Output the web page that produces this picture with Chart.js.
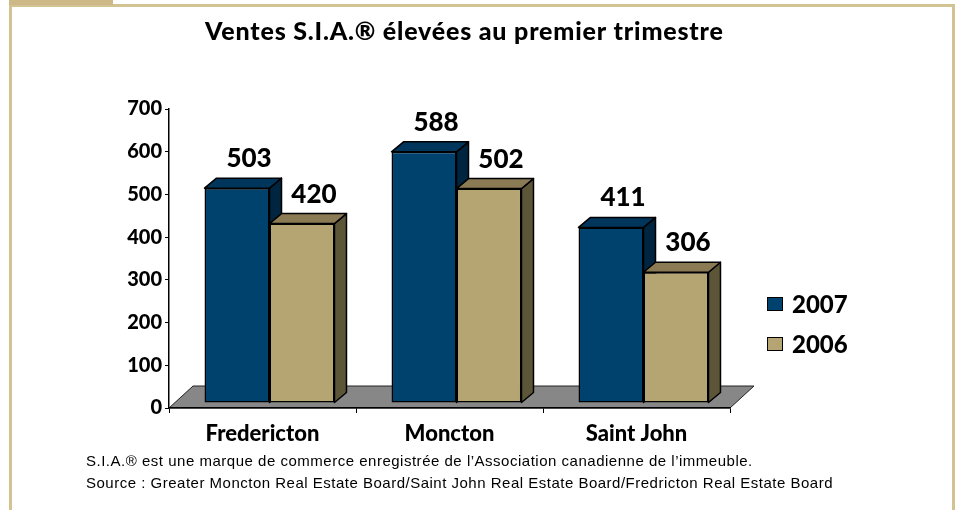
<!DOCTYPE html>
<html>
<head>
<meta charset="utf-8">
<script src="https://cdn.jsdelivr.net/npm/chart.js@4"></script>
<style>
  html, body { margin: 0; padding: 0; background: #ffffff; }
  canvas { display: block; }
</style>
</head>
<body>
<canvas id="chart" width="957" height="510"></canvas>
<script>
// data
const categories = ["Fredericton", "Moncton", "Saint John"];
const seriesNames = ["2007", "2006"];
const sales2007 = [503, 588, 411];
const sales2006 = [420, 502, 306];
const yMin = 0, yMax = 700, yStep = 100;

const titleText = "Ventes S.I.A.® élevées au premier trimestre";
const notes = [
  "S.I.A.® est une marque de commerce enregistrée de l\u2019Association canadienne de l\u2019immeuble.",
  "Source : Greater Moncton Real Estate Board/Saint John Real Estate Board/Fredricton Real Estate Board"
];

// front / top / side colours for each series
const faceColors = [
  { front: "#00426e", top: "#00365b", side: "#002540" },
  { front: "#b5a572", top: "#8a7b55", side: "#5c5538" }
];

const FONT = "Lato, 'DejaVu Sans', sans-serif";
const SHIFT_X = 7, SHIFT_Y = -5;     // bars sit a little back on the floor
const DEPTH_X = 12, DEPTH_Y = -10;   // bar depth
const FLOOR_X = 24, FLOOR_Y = -22;   // floor depth

// draw text stretched with letter spacing to a wanted width
function fitText(ctx, text, x, y, width) {
  ctx.letterSpacing = "0px";
  const w = ctx.measureText(text).width;
  const sp = (width - w) / Math.max(1, text.length - 1);
  ctx.letterSpacing = sp.toFixed(2) + "px";
  ctx.fillText(text, x, y);
  ctx.letterSpacing = "0px";
}

const frame = {
  id: "frame",
  beforeDraw(chart) {
    const ctx = chart.ctx;
    const a = chart.chartArea;
    ctx.save();
    ctx.fillStyle = "#ffffff";
    ctx.fillRect(0, 0, chart.width, chart.height);
    // tan border and tab
    ctx.fillStyle = "#d3c393";
    ctx.fillRect(9, 4, 946, 3);
    ctx.fillRect(9, 4, 3, chart.height);
    ctx.fillRect(952, 4, 3, chart.height);
    ctx.fillStyle = "#ccb987";
    ctx.fillRect(9, 0, 104, 5);

    // floor
    ctx.beginPath();
    ctx.moveTo(a.left, a.bottom);
    ctx.lineTo(a.right, a.bottom);
    ctx.lineTo(a.right + FLOOR_X, a.bottom + FLOOR_Y);
    ctx.lineTo(a.left + FLOOR_X, a.bottom + FLOOR_Y);
    ctx.closePath();
    ctx.fillStyle = "#878787";
    ctx.fill();
    ctx.strokeStyle = "#222";
    ctx.lineWidth = 1;
    ctx.stroke();

    // title
    ctx.fillStyle = "#000";
    ctx.font = "900 25px " + FONT;
    ctx.textAlign = "left";
    ctx.textBaseline = "alphabetic";
    fitText(ctx, titleText, 205, 40, 518);

    // footnotes
    ctx.font = "15px 'Liberation Sans', Arial, sans-serif";
    fitText(ctx, notes[0], 86, 466, 666);
    fitText(ctx, notes[1], 86, 488, 747);
    ctx.restore();
  },
  beforeDatasetsDraw(chart) {
    const ctx = chart.ctx;
    ctx.save();
    ctx.translate(SHIFT_X, SHIFT_Y);
    ctx.strokeStyle = "#000";
    ctx.lineWidth = 1.5;
    ctx.lineJoin = "round";
    categories.forEach((c, i) => {
      chart.data.datasets.forEach((ds, d) => {
        const bar = chart.getDatasetMeta(d).data[i];
        const l = bar.x - bar.width / 2, r = bar.x + bar.width / 2;
        const t = bar.y, b = bar.base;
        // side
        ctx.beginPath();
        ctx.moveTo(r, t);
        ctx.lineTo(r + DEPTH_X, t + DEPTH_Y);
        ctx.lineTo(r + DEPTH_X, b + DEPTH_Y);
        ctx.lineTo(r, b);
        ctx.closePath();
        ctx.fillStyle = faceColors[d].side;
        ctx.fill();
        ctx.stroke();
        // top
        ctx.beginPath();
        ctx.moveTo(l, t);
        ctx.lineTo(l + DEPTH_X, t + DEPTH_Y);
        ctx.lineTo(r + DEPTH_X, t + DEPTH_Y);
        ctx.lineTo(r, t);
        ctx.closePath();
        ctx.fillStyle = faceColors[d].top;
        ctx.fill();
        ctx.stroke();
      });
    });
  },
  afterDatasetsDraw(chart) {
    const ctx = chart.ctx;
    // value labels
    ctx.fillStyle = "#000";
    ctx.font = "900 26px " + FONT;
    ctx.textAlign = "center";
    ctx.textBaseline = "alphabetic";
    chart.data.datasets.forEach((ds, d) => {
      chart.getDatasetMeta(d).data.forEach((bar, i) => {
        ctx.fillText(String(ds.data[i]), bar.x + 12, bar.y - 21);
      });
    });
    ctx.restore();
  },
  afterDraw(chart) {
    // legend
    const ctx = chart.ctx;
    ctx.save();
    ctx.font = "900 24px " + FONT;
    ctx.textAlign = "left";
    ctx.textBaseline = "alphabetic";
    chart.data.datasets.forEach((ds, d) => {
      const y = 297 + d * 40;
      ctx.fillStyle = faceColors[d].front;
      ctx.fillRect(767, y, 16, 14);
      ctx.strokeStyle = "#000";
      ctx.lineWidth = 1;
      ctx.strokeRect(767.5, y + 0.5, 15, 13);
      ctx.fillStyle = "#000";
      ctx.fillText(ds.label, 792, y + 16);
    });
    ctx.restore();
  }
};

new Chart(document.getElementById("chart"), {
  type: "bar",
  data: {
    labels: categories,
    datasets: [
      {
        label: seriesNames[0],
        data: sales2007,
        backgroundColor: faceColors[0].front,
        borderColor: "#000",
        borderWidth: 1.5,
        borderSkipped: false
      },
      {
        label: seriesNames[1],
        data: sales2006,
        backgroundColor: faceColors[1].front,
        borderColor: "#000",
        borderWidth: 1.5,
        borderSkipped: false
      }
    ]
  },
  options: {
    responsive: false,
    animation: false,
    layout: { padding: { left: 0, top: 109, right: 227, bottom: 0 } },
    datasets: { bar: { categoryPercentage: 0.695, barPercentage: 1 } },
    plugins: {
      legend: { display: false },
      title: { display: false },
      tooltip: { enabled: false }
    },
    scales: {
      x: {
        offset: true,
        grid: { offset: true, drawOnChartArea: false, tickLength: 5, color: "#000", lineWidth: 1 },
        border: { color: "#000", width: 1.5 },
        ticks: { color: "#000", font: { family: FONT, size: 22, weight: "900" }, padding: 8 },
        afterFit: (s) => { s.height = 102; }
      },
      y: {
        min: yMin,
        max: yMax,
        grid: { drawOnChartArea: false, tickLength: 4, color: "#000", lineWidth: 1 },
        border: { color: "#000", width: 1.5 },
        ticks: { stepSize: yStep, color: "#000", font: { family: FONT, size: 20, weight: "900" }, padding: 3 },
        afterFit: (s) => { s.width = 169; }
      }
    }
  },
  plugins: [frame]
});
</script>
</body>
</html>
